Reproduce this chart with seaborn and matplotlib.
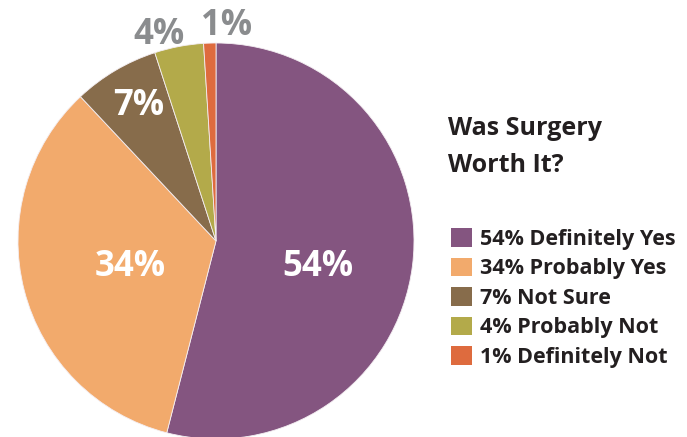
import numpy as np
import matplotlib
matplotlib.use('Agg')
import matplotlib.pyplot as plt
import seaborn as sns

# Dados
categorias = ['Definitely Yes', 'Probably Yes', 'Not Sure', 'Probably Not', 'Definitely Not']
percentuais = [54, 34, 7, 4, 1]
cores = ['#845580', '#F2AA6C', '#876C4B', '#B3AA4A', '#DE6B3E']
titulo = 'Was Surgery\nWorth It?'

sns.set_theme(style='white')
plt.rcParams['font.family'] = ['Open Sans', 'DejaVu Sans']

fig = plt.figure(figsize=(6.87, 4.37), dpi=100)
ax = fig.add_axes([18 / 687, -2 / 437, 396 / 687, 396 / 437])

wedges, _ = ax.pie(percentuais, colors=sns.color_palette(cores), startangle=90,
                   counterclock=False, radius=1,
                   wedgeprops=dict(edgecolor='#F4EEF2', linewidth=0.6))
ax.set_xlim(-1, 1)
ax.set_ylim(-1, 1)

# Rótulos: (raio, deslocamento angular, cor) -- posição da linha de base
estilo = [(0.545, -11.8, 'white'), (0.469, 7.8, 'white'), (0.746, 0.8, 'white'),
          (1.038, 5.4, '#8A8C8E'), (1.041, -4.6, '#8A8C8E')]
for w, p, (r, da, c) in zip(wedges, percentuais, estilo):
    ang = np.deg2rad((w.theta1 + w.theta2) / 2 + da)
    ax.text(r * np.cos(ang), r * np.sin(ang), f'{p}%', ha='center', va='baseline',
            color=c, fontsize=25, fontweight='bold')

# Título e legenda
fig.text(448 / 687, 1 - 147 / 437, titulo, ha='left', va='center', fontsize=18,
         fontweight='bold', color='#231F20', linespacing=1.6)
rotulos = [f'{p}% {c}' for p, c in zip(percentuais, categorias)]
leg = fig.legend(wedges, rotulos, loc='upper left', bbox_to_anchor=(432 / 687, 1 - 209 / 437),
                 frameon=False, fontsize=15.5, handlelength=0.95, handleheight=0.95,
                 handletextpad=0.4, labelspacing=0.36)
for t in leg.get_texts():
    t.set_fontweight('bold')
    t.set_color('#231F20')
for h in leg.legend_handles:
    h.set_edgecolor('none')

plt.savefig('out.png', dpi=100)
plt.close()
